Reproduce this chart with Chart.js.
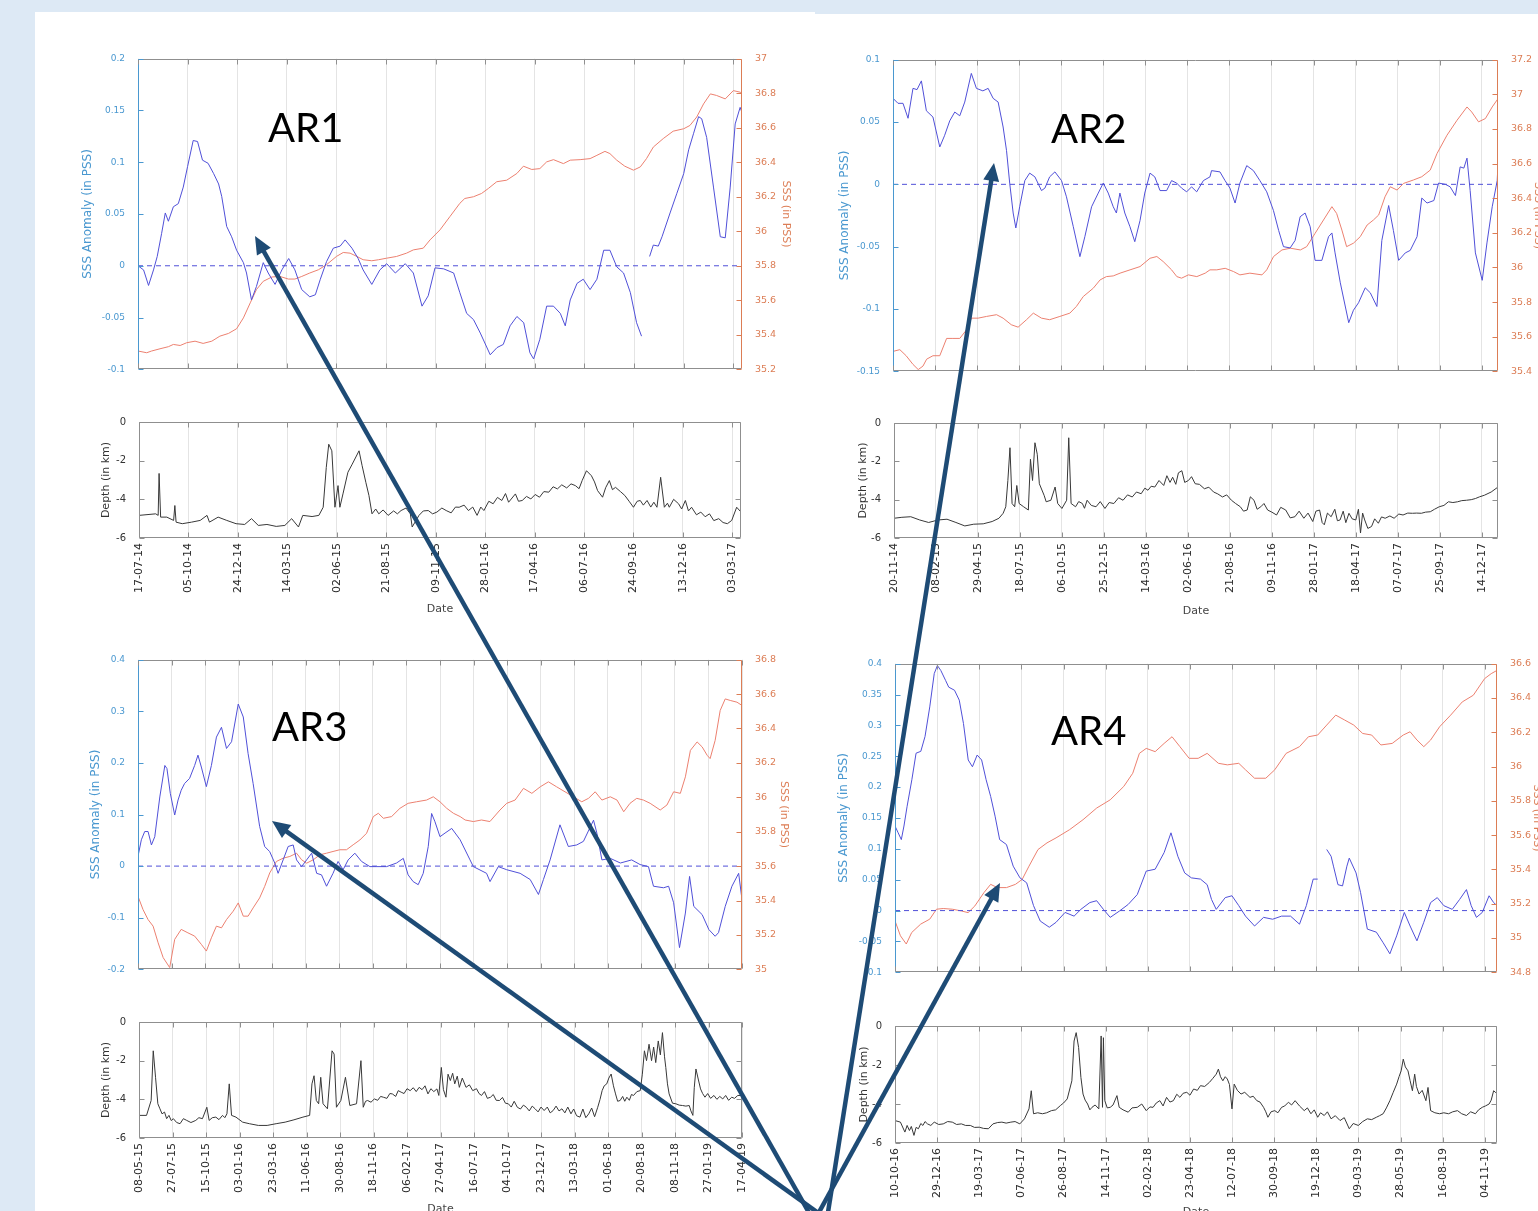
<!DOCTYPE html>
<html lang="en">
<head>
<meta charset="UTF-8">
<title>SSS anomaly, SSS and depth - AR1 to AR4</title>
<script src="https://cdn.jsdelivr.net/npm/chart.js"></script>
<style>
    html, body { margin: 0; padding: 0; }
    body { width: 1538px; height: 1211px; overflow: hidden; background: #dde9f5; position: relative; }
    .panel { position: absolute; background: #fff; }
    canvas { position: absolute; }
    #overlay { position: absolute; left: 0; top: 0; }
</style>
</head>
<body>
<div class="panel" style="left:35px;top:12px;width:780px;height:1199px"></div>
<div class="panel" style="left:815px;top:14px;width:723px;height:1197px"></div>

<canvas id="ar1Top"></canvas>
<canvas id="ar1Bottom"></canvas>
<canvas id="ar2Top"></canvas>
<canvas id="ar2Bottom"></canvas>
<canvas id="ar3Top"></canvas>
<canvas id="ar3Bottom"></canvas>
<canvas id="ar4Top"></canvas>
<canvas id="ar4Bottom"></canvas>

<svg id="overlay" width="1538" height="1211" xmlns="http://www.w3.org/2000/svg"></svg>

<script>
// ---- data: [day offset from first date tick, value] ----
const depthTicks = [-6, -4, -2, 0];

// AR1
const ar1Dates = ['17-07-14','05-10-14','24-12-14','14-03-15','02-06-15','21-08-15','09-11-15','28-01-16','17-04-16','06-07-16','24-09-16','13-12-16','03-03-17'];
const ar1Span = 974;
const ar1AnomTicks = [-0.1, -0.05, 0, 0.05, 0.1, 0.15, 0.2];
const ar1SssTicks = [35.2, 35.4, 35.6, 35.8, 36, 36.2, 36.4, 36.6, 36.8, 37];
const ar1Anom = [[0,0],[9,-0.004],[17,-0.019],[25,-0.004],[31,0.009],[38,0.031],[44,0.051],[49,0.043],[57,0.057],[65,0.06],
    [73,0.076],[80,0.096],[89,0.121],[96,0.12],[104,0.102],[113,0.099],[122,0.089],[130,0.079],[135,0.067],[143,0.038],
    [151,0.028],[159,0.015],[170,0.003],[175,-0.007],[183,-0.033],[191,-0.02],[202,0.003],[210,-0.007],[221,-0.018],[232,-0.004],
    [243,0.007],[253,-0.004],[264,-0.023],[277,-0.03],[286,-0.028],[294,-0.013],[304,0.004],[315,0.017],[326,0.019],[334,0.025],
    [345,0.017],[355,0.007],[363,-0.004],[377,-0.018],[390,-0.004],[401,0.002],[415,-0.007],[431,0.002],[444,-0.007],[458,-0.039],
    [468,-0.029],[479,-0.002],[493,-0.003],[509,-0.007],[519,-0.026],[530,-0.046],[541,-0.052],[552,-0.065],[568,-0.086],[579,-0.079],
    [589,-0.076],[600,-0.058],[611,-0.049],[622,-0.055],[632,-0.084],[638,-0.09],[648,-0.071],[659,-0.039],[670,-0.039],[681,-0.046],
    [689,-0.058],[697,-0.033],[708,-0.017],[718,-0.013],[729,-0.023],[740,-0.013],[751,0.015],[761,0.015],[772,-0.001],[783,-0.007],
    [794,-0.026],[804,-0.055],[812,-0.068],[818,null],[825,0.009],[831,0.02],[839,0.019],[845,0.028],[858,0.051],[869,0.07],
    [880,0.089],[888,0.112],[896,0.128],[904,0.144],[909,0.142],[917,0.124],[928,0.076],[939,0.028],[947,0.027],[955,0.076],
    [963,0.137],[971,0.153],[974,0.148]];
const ar1Sss = [[0,35.306],[14,35.296],[22,35.306],[35.5,35.319],[49,35.331],[57,35.344],[68,35.338],[78.5,35.354],[92,35.363],[105,35.35],
    [119,35.363],[132,35.392],[146,35.408],[159,35.435],[170,35.498],[181,35.585],[191,35.662],[202,35.71],[216,35.735],[229,35.738],
    [242.5,35.723],[253,35.723],[264,35.738],[277,35.758],[291,35.777],[304,35.806],[320,35.854],[331,35.877],[342,35.873],[353,35.854],
    [363,35.835],[377,35.829],[388,35.835],[401,35.844],[417,35.854],[433,35.873],[444,35.892],[460,35.902],[471,35.95],[487,36.008],
    [503,36.085],[519,36.162],[527,36.19],[541,36.2],[554,36.219],[565,36.248],[578.5,36.287],[594.6,36.296],[611,36.335],[621.5,36.377],
    [635,36.358],[648,36.363],[659,36.402],[670,36.415],[686,36.392],[697,36.412],[713,36.415],[729,36.421],[740,36.44],[753,36.463],
    [761,36.45],[772,36.412],[785,36.377],[799,36.354],[810,36.373],[820,36.421],[831,36.488],[847,36.537],[863,36.58],[880,36.594],
    [890,36.613],[901,36.662],[912,36.738],[923,36.796],[933,36.787],[947,36.767],[960,36.815],[971,36.806],[974,36.8]];
const ar1Depth = [[0,-4.83],[27,-4.75],[31,-4.83],[32.5,-2.66],[35,-4.92],[45,-4.92],[56,-5.09],[58,-4.32],[60,-5.18],[70,-5.26],
    [85,-5.18],[99,-5.09],[110,-4.83],[114,-5.18],[128,-4.92],[142,-5.09],[157,-5.26],[171,-5.3],[182,-5.0],[193,-5.35],
    [207,-5.3],[222,-5.4],[236,-5.35],[247,-5.0],[258,-5.43],[265,-4.83],[280,-4.89],[291,-4.83],[298,-4.41],[303,-2.35],
    [307,-1.15],[312,-1.49],[317,-4.41],[322,-3.29],[325,-4.41],[330,-3.72],[338,-2.6],[345,-2.18],[356,-1.49],[361,-2.26],
    [367,-3.12],[372,-3.8],[377,-4.75],[383,-4.5],[388,-4.75],[395,-4.55],[403,-4.83],[412,-4.6],[418,-4.75],[424,-4.58],
    [432,-4.45],[439,-4.75],[442,-5.43],[453,-4.83],[460,-4.6],[468,-4.58],[475,-4.75],[482,-4.66],[490,-4.45],[497,-4.58],
    [505,-4.7],[512,-4.4],[518,-4.41],[526,-4.3],[533,-4.58],[540,-4.4],[547,-4.83],[553,-4.4],[558,-4.58],[566,-4.1],
    [573,-4.23],[580,-3.9],[587,-4.06],[593,-3.7],[598,-4.15],[609,-3.72],[614,-4.1],[620,-4.06],[627,-3.85],[634,-3.98],
    [641,-3.75],[648,-3.89],[655,-3.6],[663,-3.63],[670,-3.35],[677,-3.46],[684,-3.25],[692,-3.41],[699,-3.2],[706,-3.29],
    [712,-3.45],[717,-3.03],[724,-2.52],[732,-2.78],[737,-3.1],[742,-3.55],[750,-3.89],[755,-3.4],[761,-3.03],[766,-3.5],
    [771,-3.38],[779,-3.6],[786,-3.8],[793,-4.1],[800,-4.41],[806,-4.1],[811,-4.06],[816,-4.3],[822,-4.06],[828,-4.4],
    [833,-4.15],[838,-4.41],[844,-2.86],[850,-4.41],[855,-4.2],[858,-4.41],[865,-4.0],[873,-4.23],[878,-4.5],[884,-4.06],
    [889,-4.6],[894,-4.41],[902,-4.8],[909,-4.66],[916,-4.9],[923,-4.75],[930,-5.1],[938,-5.0],[945,-5.2],[952,-5.26],
    [959,-5.09],[967,-4.41],[974,-4.66]];

// AR2
const ar2Dates = ['20-11-14','08-02-15','29-04-15','18-07-15','06-10-15','25-12-15','14-03-16','02-06-16','21-08-16','09-11-16','28-01-17','18-04-17','07-07-17','25-09-17','14-12-17'];
const ar2Span = 1151;
const ar2AnomTicks = [-0.15, -0.1, -0.05, 0, 0.05, 0.1];
const ar2SssTicks = [35.4, 35.6, 35.8, 36, 36.2, 36.4, 36.6, 36.8, 37, 37.2];
const ar2Anom = [[0,0.069],[9.5,0.065],[19,0.065],[28.6,0.053],[38,0.077],[45.7,0.076],[54,0.083],[63.5,0.059],[76,0.054],[89,0.03],
    [98,0.039],[108,0.051],[117.5,0.058],[127,0.055],[136.5,0.066],[149,0.089],[158.7,0.077],[171,0.075],[181,0.077],[190.5,0.069],
    [200,0.066],[209.5,0.046],[216,0.027],[222,0.001],[228.6,-0.023],[233.7,-0.035],[241,-0.018],[250.8,0.003],[260,0.009],[270,0.006],
    [282.5,-0.005],[289,-0.003],[298,0.006],[308,0.01],[320.6,0.003],[330,-0.01],[343,-0.034],[355.6,-0.058],[365,-0.042],[377.8,-0.018],
    [390.5,-0.007],[400,0.001],[409.5,-0.007],[419,-0.018],[425,-0.023],[431.7,-0.007],[441,-0.023],[450.8,-0.034],[460,-0.046],[470,-0.029],
    [479,-0.007],[489,0.009],[498,0.006],[508,-0.005],[520.6,-0.005],[530,0.003],[539.7,0.001],[549,-0.003],[558.7,-0.006],[568,-0.002],
    [577.8,-0.006],[590.5,0.003],[603,0.006],[606,0.011],[622,0.01],[631.7,0.003],[641,-0.003],[650.8,-0.015],[660,0.001],[673,0.015],
    [685.7,0.011],[698,0.003],[711,-0.006],[723.8,-0.021],[733.7,-0.037],[742.9,-0.05],[755.6,-0.051],[765,-0.045],[774.6,-0.026],[784,-0.023],
    [793.7,-0.034],[803,-0.061],[815.9,-0.061],[828.6,-0.042],[835,-0.039],[841,-0.055],[851,-0.079],[867,-0.111],[876,-0.101],[885.7,-0.095],
    [898.4,-0.083],[908,-0.087],[920.6,-0.098],[930,-0.045],[943,-0.017],[952,-0.037],[962,-0.061],[974.6,-0.055],[984,-0.053],[997,-0.042],
    [1006,-0.011],[1016,-0.015],[1029,-0.013],[1038,0.001],[1051,0],[1060,-0.002],[1070,-0.009],[1079,0.014],[1086,0.013],[1092,0.021],
    [1098,-0.005],[1108,-0.055],[1121,-0.077],[1130,-0.047],[1140,-0.018],[1149.5,0.003],[1151,0.017]];
const ar2Sss = [[0,35.515],[13,35.525],[25,35.49],[38,35.44],[48,35.41],[57,35.43],[64,35.47],[76,35.49],[89,35.49],[102,35.59],
    [114,35.59],[127,35.59],[140,35.64],[149,35.707],[162,35.707],[178,35.717],[197,35.727],[209.5,35.707],[225,35.669],[238,35.655],
    [254,35.698],[267,35.736],[282.5,35.707],[298,35.698],[317.5,35.717],[336.5,35.736],[349,35.775],[362,35.832],[381,35.88],[394,35.928],
    [406,35.947],[419,35.951],[432,35.967],[451,35.986],[470,36.005],[489,36.053],[502,36.063],[514,36.034],[530,35.986],[540,35.947],
    [549,35.938],[562,35.957],[578,35.947],[594,35.967],[603,35.986],[616,35.986],[632,35.995],[648,35.976],[660,35.957],[679,35.967],
    [702,35.957],[711,35.986],[724,36.063],[740,36.101],[756,36.111],[775,36.101],[787,36.12],[803,36.197],[819,36.274],[835,36.351],
    [844,36.312],[854,36.216],[863,36.12],[876,36.14],[889,36.178],[902,36.245],[914,36.274],[924,36.303],[936,36.408],[946,36.466],
    [959,36.447],[971,36.485],[990,36.505],[1006,36.524],[1022,36.562],[1035,36.658],[1054,36.764],[1073,36.85],[1092,36.927],[1101,36.898],
    [1114,36.841],[1127,36.86],[1140,36.927],[1151,36.975]];
const ar2Depth = [[0,-4.97],[15,-4.92],[32,-4.89],[49,-5.06],[66,-5.19],[84,-5.06],[101,-5.02],[118,-5.19],[135,-5.37],[152,-5.28],
    [170,-5.26],[187,-5.14],[200,-4.97],[208,-4.71],[213,-4.37],[217,-3.0],[221,-1.29],[225,-4.2],[230,-4.37],[234,-3.26],
    [238.5,-4.2],[247,-4.37],[256,-4.54],[260,-1.89],[264,-3.0],[268.6,-1.03],[273,-1.63],[277,-3.17],[286,-3.77],[290,-4.11],
    [299,-4.03],[307,-3.34],[312,-4.2],[320,-4.46],[329,-4.03],[333,-0.77],[337.5,-4.2],[346,-4.37],[352,-4.1],[359,-4.2],
    [363,-4.45],[368,-4.03],[376,-4.3],[385,-4.37],[393,-4.1],[402,-4.46],[410,-4.15],[419,-4.2],[428,-3.9],[436.5,-4.03],
    [445,-3.75],[454,-3.86],[462,-3.6],[471,-3.69],[478,-3.4],[484,-3.51],[490,-3.3],[497,-3.34],[505,-3.0],[514,-3.26],
    [520,-2.75],[526,-3.1],[531,-2.83],[537,-3.2],[542,-2.6],[548.5,-2.49],[554,-3.1],[561,-3.0],[567,-2.8],[574,-3.17],
    [582,-3.2],[591.5,-3.43],[600,-3.35],[609,-3.6],[617,-3.7],[626,-3.86],[634,-3.75],[643,-4.03],[651,-4.2],[660,-4.37],
    [666,-4.6],[673,-4.54],[679,-3.85],[686,-4.03],[692,-4.5],[699,-4.37],[705,-4.2],[712,-4.54],[720,-4.65],[729,-4.8],
    [737,-4.4],[746.5,-4.54],[755,-4.95],[764,-4.89],[772,-4.6],[781,-4.97],[789,-4.7],[798,-5.14],[804,-4.6],[811,-4.54],
    [816,-5.2],[820,-5.31],[826,-4.7],[833,-4.89],[840,-4.5],[845,-5.1],[850,-5.06],[856,-4.6],[861,-5.2],[867,-4.71],
    [873,-5.0],[880,-5.06],[885,-4.5],[889,-5.74],[893,-4.7],[897,-5.06],[903,-5.5],[910,-5.4],[916,-5.0],[923,-5.23],
    [929,-4.9],[936,-4.97],[945,-4.85],[953,-4.97],[962,-4.75],[970,-4.8],[979,-4.7],[988,-4.71],[996,-4.7],[1005,-4.71],
    [1013,-4.65],[1022,-4.63],[1030,-4.5],[1039,-4.37],[1048,-4.3],[1056.5,-4.11],[1065,-4.15],[1074,-4.11],[1082,-4.05],[1091,-4.03],
    [1100,-4.0],[1108,-3.94],[1116,-3.85],[1125,-3.77],[1138,-3.6],[1151,-3.34]];

// AR3
const ar3Dates = ['08-05-15','27-07-15','15-10-15','03-01-16','23-03-16','11-06-16','30-08-16','18-11-16','06-02-17','27-04-17','16-07-17','04-10-17','23-12-17','13-03-18','01-06-18','20-08-18','08-11-18','27-01-19','17-04-19'];
const ar3Span = 1440;
const ar3AnomTicks = [-0.2, -0.1, 0, 0.1, 0.2, 0.3, 0.4];
const ar3SssTicks = [35, 35.2, 35.4, 35.6, 35.8, 36, 36.2, 36.4, 36.6, 36.8];
const ar3Anom = [[0,0.019],[8,0.051],[16,0.067],[24,0.067],[32,0.041],[40,0.057],[52,0.134],[64,0.195],[69,0.189],[77,0.141],
    [87.5,0.099],[95.5,0.128],[103,0.147],[111,0.16],[123,0.17],[135,0.195],[143,0.215],[151,0.192],[163,0.154],[175,0.195],
    [187,0.25],[199,0.269],[211,0.228],[223,0.241],[239,0.314],[251,0.289],[262.5,0.218],[274.5,0.16],[290,0.077],[302,0.038],
    [314,0.028],[326,0.006],[334,-0.014],[346,0.012],[358,0.038],[370,0.041],[378,0.012],[390,-0.001],[402,0.012],[414,0.025],
    [426,-0.014],[437.5,-0.017],[449.5,-0.039],[465,-0.014],[477,0.009],[489,-0.007],[501,0.012],[517,0.025],[533,0.009],[553,-0.001],
    [569,-0.001],[592.7,-0.001],[616.5,0.006],[632.5,0.015],[644,-0.017],[656,-0.03],[668,-0.036],[680,-0.014],[692,0.038],[700,0.102],
    [708,0.086],[720,0.057],[732,0.064],[748,0.073],[768,0.051],[791.6,0.012],[799.5,-0.001],[831,-0.014],[839.3,-0.03],[859,-0.001],
    [879,-0.007],[911,-0.014],[935,-0.026],[954.7,-0.055],[966.6,-0.026],[982.5,0.012],[1006,0.08],[1026,0.038],[1046,0.041],[1062,0.048],
    [1086,0.089],[1094,0.064],[1106,0.012],[1126,0.015],[1150,0.006],[1177,0.012],[1197,0.003],[1217,-0.001],[1229,-0.039],[1253,-0.042],
    [1265,-0.039],[1277,-0.071],[1291,-0.158],[1305,-0.091],[1315,-0.02],[1325,-0.078],[1345,-0.094],[1361,-0.123],[1376,-0.136],[1384,-0.129],
    [1400,-0.078],[1416,-0.039],[1432,-0.014],[1440,-0.065]];
const ar3Sss = [[0,35.424],[12,35.347],[24,35.289],[36,35.251],[48,35.154],[60,35.068],[75.6,35.01],[87.5,35.174],[103,35.232],[119,35.212],
    [135,35.193],[151,35.145],[163,35.106],[175,35.183],[187,35.251],[199,35.241],[211,35.289],[227,35.338],[239,35.386],[251,35.309],
    [262.5,35.309],[274.5,35.357],[290,35.415],[302,35.482],[314,35.56],[330,35.627],[346,35.646],[362,35.656],[378,35.675],[390,35.637],
    [402,35.617],[418,35.637],[434,35.666],[449.5,35.675],[465,35.685],[481,35.695],[497,35.695],[513,35.724],[529,35.752],[545,35.791],
    [561,35.888],[573,35.907],[585,35.878],[604.6,35.888],[624.5,35.936],[644,35.965],[664,35.974],[688,35.984],[704,36.003],[720,35.974],
    [736,35.936],[752,35.907],[768,35.888],[780,35.868],[799.5,35.859],[819,35.868],[839,35.859],[863,35.926],[879,35.965],[899,35.984],
    [919,36.052],[939,36.023],[959,36.061],[978.5,36.09],[998,36.061],[1018,36.032],[1038,36.003],[1058,35.974],[1074,35.994],[1090,36.032],
    [1106,35.984],[1126,36.003],[1142,35.984],[1158,35.916],[1173,35.965],[1189,35.994],[1205,35.984],[1221,35.965],[1245,35.926],[1261,35.955],
    [1277,36.032],[1293,36.023],[1305,36.119],[1317,36.273],[1333,36.322],[1345,36.293],[1357,36.244],[1364,36.225],[1376,36.331],[1388,36.505],
    [1400,36.572],[1412,36.563],[1428,36.553],[1440,36.534]];
const ar3Depth = [[0,-4.83],[18,-4.83],[29,-4.06],[34,-1.49],[39.5,-2.86],[45,-4.23],[50,-4.49],[55,-4.75],[61,-4.66],[66,-5.0],
    [71.5,-4.83],[77,-5.1],[82,-5.0],[90,-5.2],[98,-5.26],[106,-5.0],[114,-5.09],[124,-5.2],[135.5,-5.09],[143,-4.95],
    [151.5,-5.0],[162,-4.41],[167.5,-5.09],[175,-4.95],[183.5,-4.92],[191,-5.05],[199.5,-4.83],[205,-4.95],[210,-4.75],[215.5,-3.2],
    [221,-4.83],[231.5,-4.92],[247.5,-5.18],[263.5,-5.26],[285,-5.35],[306,-5.35],[327.5,-5.26],[349,-5.18],[370,-5.06],[391.5,-4.92],
    [407.5,-4.83],[413,-3.2],[418,-2.78],[423.5,-4.06],[429,-4.23],[434,-2.86],[439.5,-4.23],[450,-4.49],[461,-1.49],[466,-1.66],
    [471.5,-4.41],[482,-4.06],[493,-2.86],[503.5,-4.32],[519.5,-4.23],[530,-2.0],[535.5,-4.41],[541,-4.1],[546,-4.06],[554,-4.15],
    [562,-3.98],[570,-4.05],[577,-3.85],[583.5,-3.89],[592,-3.95],[599,-3.7],[605,-3.72],[613,-3.85],[619,-3.55],[626,-3.63],
    [633,-3.7],[640,-3.45],[647.5,-3.55],[655,-3.4],[662,-3.6],[669,-3.38],[676,-3.5],[683,-3.3],[690,-3.72],[697,-3.45],
    [704,-3.6],[711.5,-3.46],[716,-3.8],[722,-2.35],[727,-3.5],[733,-3.89],[738,-2.7],[743.5,-3.03],[749,-2.65],[754,-3.2],
    [760,-2.8],[765,-3.38],[772,-2.9],[781,-3.38],[789,-3.25],[797,-3.55],[806,-3.45],[812,-3.7],[818,-3.8],[825,-3.6],
    [832,-3.95],[839.5,-3.89],[846,-3.75],[853,-4.05],[861,-4.06],[868,-3.9],[875,-4.2],[882,-4.23],[889,-4.4],[896,-4.1],
    [903.5,-4.41],[911,-4.5],[918,-4.3],[925,-4.41],[932,-4.6],[939,-4.35],[946,-4.49],[953,-4.65],[960,-4.4],[967.5,-4.58],
    [975,-4.4],[982,-4.7],[989,-4.58],[996,-4.35],[1003,-4.6],[1010,-4.49],[1017,-4.7],[1024,-4.4],[1031.5,-4.75],[1038,-4.5],
    [1045,-4.85],[1053,-4.92],[1060,-4.5],[1067,-4.95],[1074,-4.75],[1081,-4.45],[1088,-4.9],[1095.5,-4.41],[1101,-4.0],[1106,-3.55],
    [1111,-3.3],[1117,-3.2],[1122,-2.9],[1127.5,-2.69],[1133,-3.3],[1138,-3.72],[1143,-4.1],[1149,-4.06],[1155,-3.85],[1160,-4.1],
    [1165,-3.89],[1171,-4.05],[1176,-3.75],[1181,-3.8],[1189,-3.6],[1197,-3.55],[1202,-2.7],[1207,-1.49],[1212,-2.0],[1218,-1.15],
    [1224,-2.0],[1229,-1.3],[1234,-2.1],[1240,-0.98],[1245,-1.7],[1250,-0.55],[1255,-1.8],[1258,-2.35],[1262,-3.2],[1266,-3.72],
    [1274,-4.2],[1282,-4.23],[1290,-4.3],[1298,-4.32],[1306,-4.35],[1314,-4.32],[1318,-4.6],[1322.7,-4.83],[1326,-3.4],[1330,-2.43],
    [1336,-3.0],[1341,-3.46],[1346,-3.7],[1351.5,-3.89],[1358,-3.7],[1365,-3.95],[1373,-3.8],[1380,-4.0],[1387,-3.85],[1394,-3.98],
    [1401,-3.8],[1408,-4.05],[1415.5,-3.89],[1422,-3.95],[1430,-3.8],[1440,-3.8]];

// AR4
const ar4Dates = ['10-10-16','29-12-16','19-03-17','07-06-17','26-08-17','14-11-17','02-02-18','23-04-18','12-07-18','30-09-18','19-12-18','09-03-19','28-05-19','16-08-19','04-11-19'];
const ar4Span = 1143;
const ar4AnomTicks = [-0.1, -0.05, 0, 0.05, 0.1, 0.15, 0.2, 0.25, 0.3, 0.35, 0.4];
const ar4SssTicks = [34.8, 35, 35.2, 35.4, 35.6, 35.8, 36, 36.2, 36.4, 36.6];
const ar4Anom = [[0,0.137],[6,0.126],[12,0.115],[17,0.137],[23,0.169],[32,0.212],[40,0.255],[49,0.258],[57,0.282],[66,0.33],
    [74.5,0.384],[80.5,0.397],[87,0.389],[96,0.373],[102,0.362],[113,0.357],[122,0.341],[130,0.303],[139,0.244],[147,0.233],
    [156,0.252],[164.5,0.244],[173,0.212],[181.6,0.185],[190,0.153],[198.7,0.115],[211.6,0.107],[224.4,0.072],[237.3,0.053],[250,0.045],
    [263,0.008],[275.8,-0.017],[292.9,-0.027],[305.8,-0.019],[322.9,-0.003],[340,-0.009],[352.9,0.002],[370,0.013],[382.9,0.016],[395.7,0.002],
    [408.6,-0.011],[425.7,-0.001],[442.8,0.01],[460,0.026],[477,0.064],[494,0.067],[511,0.094],[524,0.126],[537,0.088],[550,0.061],
    [562.8,0.053],[580,0.051],[592.7,0.042],[601,0.018],[609.9,0.002],[627,0.021],[639.8,0.024],[652.7,0.008],[665.5,-0.009],[682.7,-0.025],
    [699.8,-0.011],[717,-0.014],[734,-0.009],[751,-0.009],[768,-0.022],[781,0.008],[794,0.051],[802.6,0.051],[811,null],[819.7,0.099],
    [828,0.088],[832.5,0.072],[841,0.042],[849.7,0.04],[858,0.072],[862.5,0.085],[875.4,0.061],[884,0.029],[896.8,-0.03],[914,-0.035],
    [926.8,-0.052],[939.6,-0.07],[952.5,-0.041],[967,-0.003],[978,-0.025],[991,-0.049],[1004,-0.019],[1017,0.013],[1029.6,0.021],[1042,0.008],
    [1058,0.002],[1072,0.018],[1085,0.034],[1094,0.008],[1104,-0.011],[1115,-0.003],[1128,0.024],[1136.6,0.013],[1143,0.008]];
const ar4Sss = [[0,35.1],[10.3,35.013],[21.4,34.965],[31.7,35.032],[48.8,35.081],[66,35.11],[78.8,35.168],[91.6,35.172],[108.8,35.168],[126,35.158],
    [138.8,35.148],[151.6,35.187],[168.7,35.264],[181.6,35.313],[194.4,35.294],[211.6,35.294],[228.7,35.313],[241.5,35.342],[254.4,35.419],[271.5,35.516],
    [288.6,35.555],[305.8,35.584],[331.5,35.632],[357,35.69],[382.9,35.758],[408.6,35.806],[434.3,35.884],[451.4,35.961],[464,36.077],[477,36.106],
    [494,36.087],[511,36.135],[526,36.174],[541,36.116],[558.5,36.048],[575.6,36.048],[592.7,36.077],[614,36.019],[631,36.01],[652.7,36.019],
    [665.5,35.981],[682.7,35.932],[704,35.932],[721,35.981],[742.6,36.077],[768,36.116],[785,36.174],[802.6,36.184],[819.7,36.242],[836.8,36.3],
    [854,36.271],[871,36.242],[888,36.193],[905,36.184],[922.5,36.126],[944,36.135],[965,36.184],[978,36.203],[991,36.155],[1004,36.116],
    [1017,36.155],[1034,36.232],[1055,36.3],[1077,36.377],[1098,36.416],[1119.5,36.513],[1132,36.542],[1143,36.561]];
const ar4Depth = [[0,-4.85],[10.3,-4.93],[18.8,-5.44],[23,-5.1],[27.4,-5.36],[31,-5.15],[36,-5.61],[40,-5.2],[44.5,-5.27],[49,-5.0],
    [53,-5.1],[57,-4.9],[61.7,-5.02],[68,-5.1],[74.5,-4.93],[83,-5.05],[91.6,-5.02],[100,-4.9],[108.8,-4.93],[117,-5.05],
    [126,-5.02],[134,-5.1],[143,-5.1],[151,-5.2],[160,-5.19],[168,-5.25],[177.3,-5.27],[186,-5.02],[195,-4.95],[203,-4.93],
    [211,-4.98],[220,-4.93],[228,-4.9],[237,-5.02],[245.8,-4.76],[254.4,-4.25],[258.7,-3.32],[263,-4.5],[271,-4.45],[280,-4.5],
    [288,-4.45],[297,-4.34],[305,-4.3],[314,-4.08],[320,-3.95],[327,-3.74],[335.8,-2.81],[340,-0.77],[344,-0.34],[348.6,-1.1],
    [353,-2.64],[357,-3.49],[361,-3.8],[365.7,-4.0],[370,-4.3],[374,-4.17],[380,-4.05],[387,-4.25],[391.4,-0.51],[394,-4.17],
    [395.7,-0.6],[398.3,-3.83],[403,-4.2],[408.6,-4.17],[414,-4.05],[421.4,-3.57],[425.7,-4.17],[433,-4.3],[442.8,-4.42],[450,-4.2],
    [460,-4.17],[468.5,-4.0],[477,-4.34],[484,-4.15],[490,-4.17],[496,-3.95],[502.8,-3.83],[509,-4.1],[515.6,-3.66],[522,-3.9],
    [528.5,-3.83],[535,-3.5],[541,-3.66],[547,-3.45],[554,-3.4],[560,-3.55],[567,-3.23],[574,-3.3],[580,-3.06],[588,-3.1],
    [597,-2.89],[603,-2.7],[609.9,-2.47],[614,-2.21],[618,-2.6],[622.5,-2.81],[627,-2.6],[631,-2.72],[635,-3.0],[639.8,-4.25],
    [644,-2.98],[650,-3.3],[657,-3.49],[664,-3.4],[674,-3.66],[680,-3.6],[687,-3.83],[693,-3.9],[699.8,-4.17],[704,-4.4],
    [708,-4.68],[714,-4.4],[721,-4.34],[727,-4.45],[734,-4.17],[740,-4.1],[747,-3.91],[753,-4.05],[759.7,-3.83],[768,-4.1],
    [777,-4.34],[783,-4.2],[789.7,-4.5],[796,-4.3],[802.6,-4.68],[808,-4.45],[815,-4.59],[821,-4.4],[828,-4.76],[836,-4.6],
    [845,-4.85],[853,-4.7],[862.5,-5.27],[870,-5.0],[879.7,-5.1],[888,-4.9],[896.8,-4.76],[905,-4.8],[914,-4.68],[920,-4.6],
    [926.8,-4.5],[933,-4.2],[939.6,-3.83],[946,-3.4],[952.5,-2.98],[957,-2.6],[961,-2.3],[965,-1.7],[969,-2.1],[974,-2.3],
    [978,-2.8],[982.4,-3.32],[986.7,-2.47],[990,-3.1],[995,-3.49],[1001,-3.3],[1008,-3.83],[1012,-3.15],[1017,-4.34],[1025,-4.45],
    [1034,-4.5],[1042,-4.45],[1051,-4.5],[1059,-4.4],[1068,-4.34],[1076,-4.5],[1085,-4.59],[1093,-4.4],[1102,-4.5],[1108,-4.3],
    [1115,-4.17],[1121,-4.1],[1128,-4.0],[1132,-3.8],[1136.6,-3.32],[1140,-3.4],[1143,-3.49]];

// ---- styling ----
Chart.defaults.font.family = "'DejaVu Sans', sans-serif";
const BLUE_TXT = '#4a98d0';
const ORANGE_TXT = '#dc7d55';
const ANOM_C = '#5050d8';
const SSS_C = '#ec8070';
const DEPTH_C = '#383838';
const FRAME_C = '#8f8f8f';

function dayNum(s) {
    const p = s.split('-').map(Number);
    return Date.UTC(2000 + p[2], p[1] - 1, p[0]) / 864e5;
}
function tickDays(labels) {
    const d0 = dayNum(labels[0]);
    return labels.map(l => dayNum(l) - d0);
}
function pts(pairs) {
    return pairs.map(p => ({ x: p[0], y: p[1] }));
}
function fmt(v) {
    return String(+v.toFixed(3));
}

// frame with inward tick marks, like the original figures
const boxPlugin = {
    id: 'box',
    afterDraw(chart, args, o) {
        const { ctx, chartArea: a, scales } = chart;
        const L = Math.round(a.left) + 0.5, R = Math.round(a.right) - 0.5;
        const T = Math.round(a.top) + 0.5, B = Math.round(a.bottom) - 0.5;
        const tl = 5;
        ctx.save();
        ctx.lineWidth = 1;
        const seg = (c, x1, y1, x2, y2) => {
            ctx.strokeStyle = c;
            ctx.beginPath(); ctx.moveTo(x1, y1); ctx.lineTo(x2, y2); ctx.stroke();
        };
        seg(FRAME_C, L, T, R, T);
        seg(FRAME_C, L, B, R, B);
        seg(o.left, L, T, L, B);
        seg(o.right, R, T, R, B);
        scales.x.ticks.forEach(t => {
            const p = Math.round(scales.x.getPixelForValue(t.value)) + 0.5;
            seg(FRAME_C, p, B, p, B - tl);
            seg(FRAME_C, p, T, p, T + tl);
        });
        scales.y.ticks.forEach(t => {
            const p = Math.round(scales.y.getPixelForValue(t.value)) + 0.5;
            seg(o.left, L, p, L + tl, p);
            if (!scales.y2) seg(o.right, R, p, R - tl, p);
        });
        if (scales.y2) {
            scales.y2.ticks.forEach(t => {
                const p = Math.round(scales.y2.getPixelForValue(t.value)) + 0.5;
                seg(o.right, R, p, R - tl, p);
            });
        }
        ctx.restore();
    }
};

function place(id, rect, m) {
    const c = document.getElementById(id);
    c.width = rect[2] - rect[0] + m.l + m.r;
    c.height = rect[3] - rect[1] + m.t + m.b;
    c.style.left = (rect[0] - m.l) + 'px';
    c.style.top = (rect[1] - m.t) + 'px';
    return c;
}

function xScale(labels, span, showLabels, h) {
    const days = tickDays(labels);
    return {
        type: 'linear', min: 0, max: span,
        afterBuildTicks: s => { s.ticks = days.map(v => ({ value: v })); },
        ticks: {
            display: showLabels, autoSkip: false, minRotation: 90, maxRotation: 90,
            padding: 5, color: '#2a2a2a', font: { size: 11 },
            callback: (v, i) => labels[i]
        },
        grid: { color: '#e4e4e4', drawTicks: false },
        border: { display: false },
        title: { display: showLabels, text: 'Date', color: '#444', font: { size: 11 }, padding: { top: 0, bottom: 4 } },
        afterFit: s => { s.height = h; }
    };
}

function yScale(ticksArr, pos, color, size, titleText, titleSize, w) {
    return {
        type: 'linear', position: pos,
        min: ticksArr[0], max: ticksArr[ticksArr.length - 1],
        afterBuildTicks: s => { s.ticks = ticksArr.map(v => ({ value: v })); },
        ticks: { color: color, font: { size: size }, padding: 5, callback: v => fmt(v) },
        grid: { display: false },
        border: { display: false },
        title: { display: true, text: titleText, color: color, font: { size: titleSize } },
        afterFit: s => { s.width = w; }
    };
}

function topChart(id, rect, m, dates, span, anom, sss, anomTicks, sssTicks) {
    const canvas = place(id, rect, m);
    return new Chart(canvas, {
        type: 'line',
        data: {
            datasets: [
                { data: pts(anom), yAxisID: 'y', borderColor: ANOM_C },
                { data: [{ x: 0, y: 0 }, { x: span, y: 0 }], yAxisID: 'y', borderColor: ANOM_C, borderDash: [5, 4] },
                { data: pts(sss), yAxisID: 'y2', borderColor: SSS_C }
            ]
        },
        options: {
            responsive: false,
            animation: false,
            layout: { padding: { top: m.t, left: 0, right: 0, bottom: 0 } },
            elements: { point: { radius: 0 }, line: { borderWidth: 1, tension: 0 } },
            plugins: {
                legend: { display: false },
                tooltip: { enabled: false },
                box: { left: BLUE_TXT, right: ORANGE_TXT }
            },
            scales: {
                x: xScale(dates, span, false, m.b),
                y: yScale(anomTicks, 'left', BLUE_TXT, 9, 'SSS Anomaly (in PSS)', 12, m.l),
                y2: yScale(sssTicks, 'right', ORANGE_TXT, 9.5, 'SSS (in PSS)', 11, m.r)
            }
        },
        plugins: [boxPlugin]
    });
}

function depthChart(id, rect, m, dates, span, depth) {
    const canvas = place(id, rect, m);
    return new Chart(canvas, {
        type: 'line',
        data: { datasets: [{ data: pts(depth), borderColor: DEPTH_C }] },
        options: {
            responsive: false,
            animation: false,
            layout: { padding: { top: m.t, left: 0, right: m.r, bottom: 0 } },
            elements: { point: { radius: 0 }, line: { borderWidth: 1, tension: 0 } },
            plugins: {
                legend: { display: false },
                tooltip: { enabled: false },
                box: { left: FRAME_C, right: FRAME_C }
            },
            scales: {
                x: xScale(dates, span, true, m.b),
                y: yScale(depthTicks, 'left', '#333', 10, 'Depth (in km)', 11, m.l)
            }
        },
        plugins: [boxPlugin]
    });
}

topChart('ar1Top', [138, 58, 742, 370], { l: 61, r: 54, t: 10, b: 10 }, ar1Dates, ar1Span, ar1Anom, ar1Sss, ar1AnomTicks, ar1SssTicks);
depthChart('ar1Bottom', [139, 421, 741, 538], { l: 43, r: 22, t: 10, b: 82 }, ar1Dates, ar1Span, ar1Depth);
topChart('ar2Top', [893, 59, 1498, 372], { l: 59, r: 50, t: 10, b: 10 }, ar2Dates, ar2Span, ar2Anom, ar2Sss, ar2AnomTicks, ar2SssTicks);
depthChart('ar2Bottom', [894, 422, 1498, 538], { l: 41, r: 22, t: 10, b: 84 }, ar2Dates, ar2Span, ar2Depth);
topChart('ar3Top', [138, 659, 742, 970], { l: 53, r: 52, t: 10, b: 10 }, ar3Dates, ar3Span, ar3Anom, ar3Sss, ar3AnomTicks, ar3SssTicks);
depthChart('ar3Bottom', [139, 1021, 742, 1138], { l: 43, r: 22, t: 10, b: 82 }, ar3Dates, ar3Span, ar3Depth);
topChart('ar4Top', [895, 663, 1497, 973], { l: 62, r: 50, t: 10, b: 10 }, ar4Dates, ar4Span, ar4Anom, ar4Sss, ar4AnomTicks, ar4SssTicks);
depthChart('ar4Bottom', [895, 1025, 1497, 1143], { l: 41, r: 22, t: 10, b: 80 }, ar4Dates, ar4Span, ar4Depth);

// ---- labels and arrows laid over the figures ----
const regionLabels = [['AR1', 268, 142], ['AR2', 1051, 143], ['AR3', 272, 741], ['AR4', 1051, 745]];
const arrows = [
    { tip: [255, 236], tail: [816, 1225] },
    { tip: [994, 163], tail: [826, 1225] },
    { tip: [272, 821], tail: [835, 1225] },
    { tip: [1000, 883], tail: [812, 1225] }
];
const svg = document.getElementById('overlay');
const NS = 'http://www.w3.org/2000/svg';
regionLabels.forEach(([txt, x, y]) => {
    const t = document.createElementNS(NS, 'text');
    t.setAttribute('x', x);
    t.setAttribute('y', y);
    t.setAttribute('font-family', 'Lato, sans-serif');
    t.setAttribute('font-size', '40');
    t.setAttribute('fill', '#000');
    t.textContent = txt;
    svg.appendChild(t);
});
arrows.forEach(a => {
    const dx = a.tip[0] - a.tail[0], dy = a.tip[1] - a.tail[1];
    const len = Math.hypot(dx, dy), ux = dx / len, uy = dy / len;
    const headLen = 18, half = 8;
    const bx = a.tip[0] - ux * headLen, by = a.tip[1] - uy * headLen;
    const line = document.createElementNS(NS, 'line');
    line.setAttribute('x1', a.tail[0]); line.setAttribute('y1', a.tail[1]);
    line.setAttribute('x2', bx + ux * 2); line.setAttribute('y2', by + uy * 2);
    line.setAttribute('stroke', '#1e4b75');
    line.setAttribute('stroke-width', '4.5');
    svg.appendChild(line);
    const head = document.createElementNS(NS, 'polygon');
    head.setAttribute('points', [
        a.tip[0] + ',' + a.tip[1],
        (bx - uy * half) + ',' + (by + ux * half),
        (bx + uy * half) + ',' + (by - ux * half)
    ].join(' '));
    head.setAttribute('fill', '#1e4b75');
    svg.appendChild(head);
});
</script>
</body>
</html>
